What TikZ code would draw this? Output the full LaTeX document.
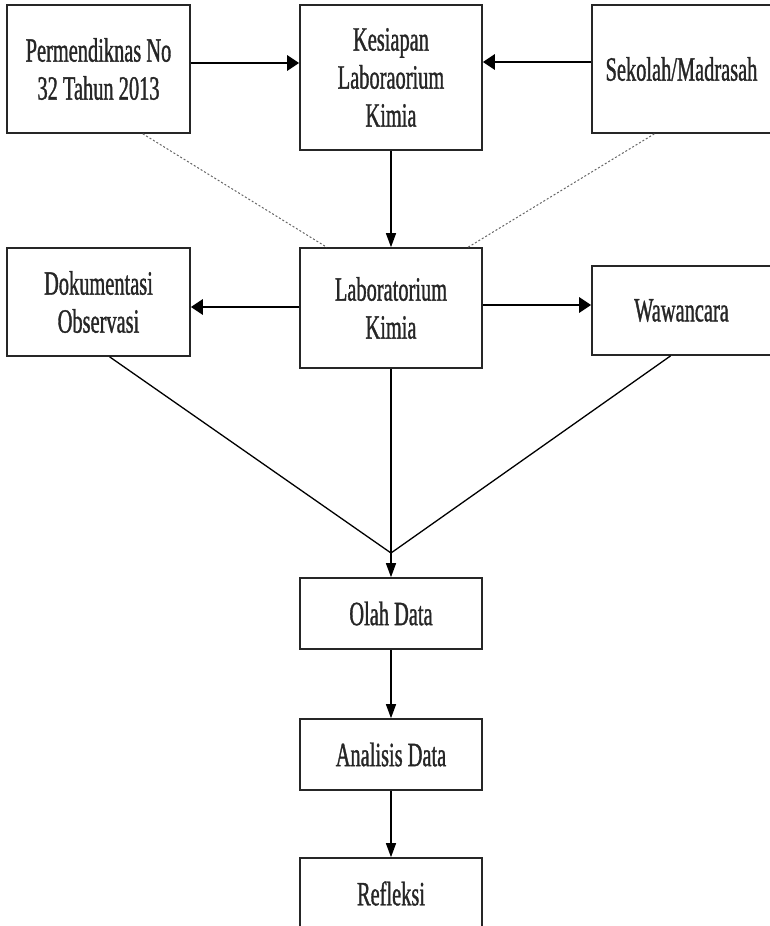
\documentclass[tikz,border=0pt]{standalone}
\usepackage{fontspec}
\setmainfont[FakeStretch=0.6,FakeBold=1]{Liberation Serif}
\usetikzlibrary{arrows.meta,calc}
\begin{document}
\begin{tikzpicture}[x=1pt,y=-1pt,
  box/.style={draw=black!85, line width=1.6pt, rectangle, inner sep=0pt, align=center,
    font=\fontsize{34}{38}\selectfont, text=black!85},
  harrow/.style={line width=2.8pt, -{Triangle[length=12pt,width=15pt]}},
  varrow/.style={line width=1.3pt, -{Triangle[length=14pt,width=10pt]}},
  dotline/.style={black!60, line width=1pt, dash pattern=on 2pt off 2pt},
  mergeline/.style={line width=1.3pt}]
\useasboundingbox (0,0) rectangle (770,926);
\clip (0,0) rectangle (770,926);
\node[box, minimum width=183pt, minimum height=128pt] (p) at (98.5,69) {Permendiknas No\\32 Tahun 2013};
\node[box, minimum width=182pt, minimum height=145pt] (k) at (391,77.5) {Kesiapan\\Laboraorium\\Kimia};
\node[box, minimum width=179pt, minimum height=128pt] (s) at (681.5,69) {Sekolah/Madrasah};
\node[box, minimum width=182pt, minimum height=120pt] (lab) at (391,308) {Laboratorium\\Kimia};
\node[box, minimum width=183pt, minimum height=108pt] (dok) at (98.5,302) {Dokumentasi\\Observasi};
\node[box, minimum width=179pt, minimum height=89pt] (waw) at (681.5,310.5) {Wawancara};
\node[box, minimum width=182pt, minimum height=71pt] (olah) at (391,613.5) {Olah Data};
\node[box, minimum width=182pt, minimum height=71pt] (ana) at (391,754.5) {Analisis Data};
\node[box, minimum width=182pt, minimum height=71pt] (ref) at (391,893.5) {Refleksi};
\draw[harrow] ([yshift=6pt]p.east) -- ([yshift=6pt]p.east -| k.west);
\draw[harrow] ([yshift=7pt]s.west) -- ([yshift=7pt]s.west -| k.east);
\draw[varrow] (k.south) -- (lab.north);
\draw[dotline] ($(p.south west)!0.74!(p.south east)$) -- ($(lab.north west)!0.15!(lab.north east)$);
\draw[dotline] ($(s.south west)!0.35!(s.south east)$) -- ($(lab.north west)!0.92!(lab.north east)$);
\draw[harrow] ([yshift=1pt]lab.west) -- ([yshift=1pt]lab.west -| dok.east);
\draw[harrow] ([yshift=3pt]lab.east) -- ([yshift=3pt]lab.east -| waw.west);
\coordinate (m) at (391,553);
\draw[mergeline] ($(dok.south west)!0.56!(dok.south east)$) -- (m);
\draw[mergeline] ($(waw.south west)!0.44!(waw.south east)$) -- (m);
\draw[mergeline] (lab.south) -- (m);
\draw[varrow] (m) -- (olah.north);
\draw[varrow] (olah.south) -- (ana.north);
\draw[varrow] (ana.south) -- (ref.north);
\end{tikzpicture}
\end{document}
